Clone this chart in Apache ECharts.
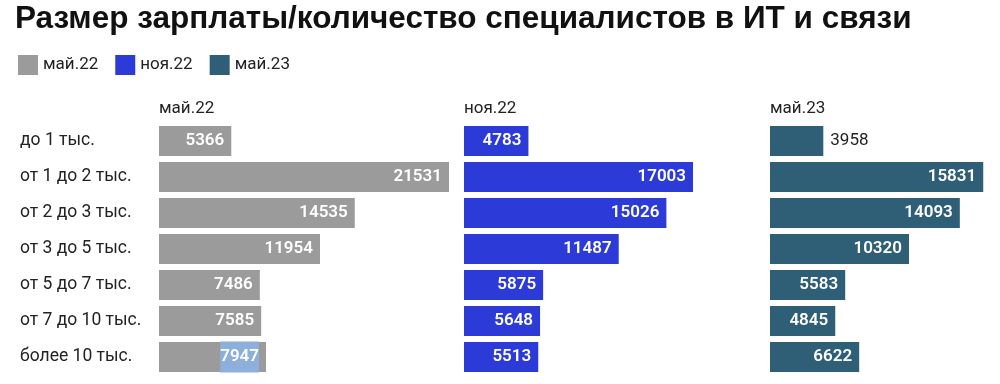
<!DOCTYPE html>
<html><head><meta charset="utf-8">
<script src="https://cdn.jsdelivr.net/npm/echarts@6/dist/echarts.min.js"></script>
<style>html,body{margin:0;padding:0;background:#fff}#c{width:1000px;height:384px}</style>
</head><body><div id="c"></div>
<script>
const titleText = 'Размер зарплаты/количество специалистов в ИТ и связи';
const categories = ['до 1 тыс.', 'от 1 до 2 тыс.', 'от 2 до 3 тыс.', 'от 3 до 5 тыс.', 'от 5 до 7 тыс.', 'от 7 до 10 тыс.', 'более 10 тыс.'];
const periods = ['май.22', 'ноя.22', 'май.23'];
const may22 = [5366, 21531, 14535, 11954, 7486, 7585, 7947];
const nov22 = [4783, 17003, 15026, 11487, 5875, 5648, 5513];
const may23 = [3958, 15831, 14093, 10320, 5583, 4845, 6622];
const seriesValues = [may22, nov22, may23];
const colors = ['#9b9b9b', '#2c3ad8', '#2f5e77'];
const gridLefts = [159, 464, 770];
const gridWidths = [290, 290, 225];
const selected = {series: 0, index: 6};

const maxVal = Math.max(...may22, ...nov22, ...may23);
const pxPerUnit = gridWidths[0] / maxVal;
const FONT = 'Roboto, "Noto Sans", sans-serif';

const grids = [], xAxes = [], yAxes = [], series = [], titles = [];
titles.push({text: titleText, left: 15, top: 3, padding: 0,
  textStyle: {fontFamily: '"Liberation Sans", Arial, sans-serif', fontSize: 31.5, fontWeight: 'bold', color: '#111'}});
periods.forEach((p, i) => {
  grids.push({left: gridLefts[i], top: 123, width: gridWidths[i], height: 252});
  xAxes.push({gridIndex: i, type: 'value', min: 0, max: gridWidths[i] / pxPerUnit, show: false});
  yAxes.push({gridIndex: i, type: 'category', data: categories, inverse: true,
    axisLine: {show: false}, axisTick: {show: false},
    axisLabel: {show: i === 0, align: 'left', margin: gridLefts[0] - 20,
      fontFamily: FONT, fontSize: 17.5, color: '#222'}});
  titles.push({text: p, left: gridLefts[i], top: 100, padding: 0,
    textStyle: {fontFamily: FONT, fontSize: 17, fontWeight: 'normal', color: '#222'}});
  series.push({
    name: p, type: 'bar', xAxisIndex: i, yAxisIndex: i, barWidth: 30,
    itemStyle: {color: colors[i]},
    data: seriesValues[i].map((v, j) => {
      const fits = v * pxPerUnit > 58;
      const lbl = fits ? {position: 'insideRight', distance: 7, color: '#fff', fontWeight: 600}
                       : {position: 'right', distance: 7, color: '#222', fontWeight: 'normal'};
      if (i === selected.series && j === selected.index) {
        lbl.backgroundColor = '#8eaedb';
        lbl.padding = [7, 0];
      }
      return {value: v, label: lbl};
    }),
    label: {show: true, fontFamily: FONT, fontSize: 17},
    animation: false
  });
});

const chart = echarts.init(document.getElementById('c'));
chart.setOption({
  animation: false,
  title: titles,
  legend: {left: 18, top: 55, padding: 0, itemWidth: 20, itemHeight: 20, itemGap: 17,
    icon: 'rect', data: periods,
    textStyle: {fontFamily: FONT, fontSize: 17, color: '#222'}},
  grid: grids, xAxis: xAxes, yAxis: yAxes, series: series
});
</script></body></html>
